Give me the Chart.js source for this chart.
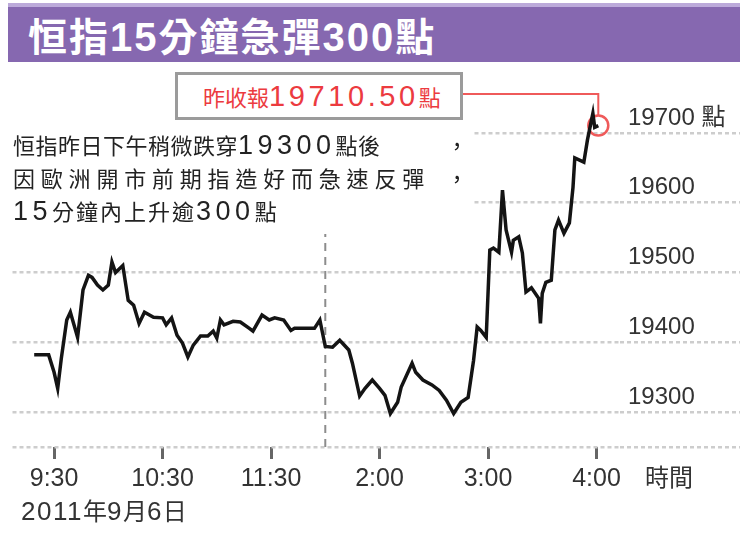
<!DOCTYPE html>
<html>
<head>
<meta charset="utf-8">
<script src="https://cdn.jsdelivr.net/npm/chart.js@4/dist/chart.umd.min.js"></script>
<style>
  html,body{margin:0;padding:0;background:#fff;}
  #wrap{position:relative;width:748px;height:540px;overflow:hidden;background:#fff;font-family:"Noto Sans CJK TC","Noto Sans CJK SC",sans-serif;}
  #c{position:absolute;left:0;top:0;}
  #titlebar{position:absolute;left:8px;top:3px;height:55px;background:#8668b0;border-top:4px solid #bcaada;color:#fff;font-weight:bold;font-size:39px;letter-spacing:2px;line-height:54px;padding-left:20px;box-sizing:content-box;width:712px;white-space:nowrap;}
  #titlebar .d{font-family:"Liberation Sans",sans-serif;font-weight:bold;font-size:40px;}
  #note{position:absolute;left:0;top:128px;width:472px;height:98px;background:#fff;color:#222;font-size:22px;}
  .ln{position:absolute;left:13px;height:33px;line-height:33px;white-space:nowrap;}
  .ln .d{font-family:"Liberation Sans",sans-serif;font-size:27px;letter-spacing:4.5px;}
  .comma{position:absolute;left:446px;width:22px;text-align:center;height:33px;line-height:33px;}
  #closeBox{position:absolute;left:175px;top:72px;height:42px;border:3px solid #9b9b9b;background:#fff;color:#ec3b3f;font-size:22px;line-height:42px;padding-left:25px;box-sizing:content-box;width:257px;white-space:nowrap;}
  #closeBox .d{font-family:"Liberation Sans",sans-serif;font-size:29px;letter-spacing:3.6px;}
  #timeLbl{position:absolute;left:645px;top:462px;font-size:24px;line-height:28px;color:#333;}
  #dateLbl{position:absolute;left:21px;top:496px;font-size:24px;line-height:28px;color:#333;white-space:nowrap;}
  #dateLbl .d{font-family:"Liberation Sans",sans-serif;font-size:26px;letter-spacing:1.5px;}
</style>
</head>
<body>
<div id="wrap">
  <canvas id="c" width="748" height="540"></canvas>
  <div id="titlebar">恒指<span class="d">15</span>分鐘急彈<span class="d">300</span>點</div>
  <div id="note">
    <div class="ln" style="top:0px;letter-spacing:0.5px">恒指昨日下午稍微跌穿<span class="d">19300</span>點後</div><div class="comma" style="top:0px">，</div>
    <div class="ln" style="top:33px;letter-spacing:5.8px">因歐洲開市前期指造好而急速反彈</div><div class="comma" style="top:33px">，</div>
    <div class="ln" style="top:66px;letter-spacing:2px"><span class="d">15</span>分鐘內上升逾<span class="d">300</span>點</div>
  </div>
  <div id="closeBox">昨收報<span class="d">19710.50</span>點</div>
  <div id="timeLbl">時間</div>
  <div id="dateLbl"><span class="d">2011</span>年<span class="d">9</span>月<span class="d">6</span>日</div>
</div>
<script>
// ---- data (trading minutes after 9:30, lunch break removed) ----
const tradingMinutes = [-11,-3,0,2,4,7,9,11,13,16,19,21,24,27,30,32,34,38,41,44,47,50,55,60,62,65,68,71,74,77,81,85,88,90,92,94,99,103,108,110,115,119,122,127,131,133,138,144,147,150,154,158,163,165,169,172,176,180,183,186,190,192,198,200,204,209,213,217,221,225,229,232,234,236,239,241,243,246,248,250,253,254,257,259,261,264,268,269,270,272,275,277,279,282,285,287,288,293,295,298,299,301];
const hsiValues = [19382,19382,19357,19334,19377,19432,19443,19425,19407,19475,19496,19493,19482,19475,19482,19515,19500,19510,19460,19453,19427,19443,19436,19435,19425,19435,19410,19399,19379,19396,19409,19409,19416,19406,19432,19425,19430,19429,19420,19416,19439,19432,19435,19432,19417,19420,19420,19420,19432,19394,19393,19403,19389,19370,19323,19334,19346,19334,19324,19298,19314,19336,19370,19357,19346,19339,19331,19317,19298,19314,19321,19374,19422,19417,19407,19532,19535,19529,19618,19561,19529,19546,19551,19528,19472,19478,19463,19427,19470,19486,19489,19561,19575,19556,19571,19622,19664,19658,19690,19728,19708,19710.5];
const xTickMinutes = [0,60,120,180,240,300];
const xTickLabels = ['9:30','10:30','11:30','2:00','3:00','4:00'];
const yTickValues = [19250,19300,19400,19500,19600,19700];
const yTickLabels = ['','19300','19400','19500','19600','19700 點'];
const lunchBreakMinute = 150;
const lunchLineValues = [19250,19555];
const previousClose = 19710.5;

const linePoints = tradingMinutes.map((m,i)=>({x:m,y:hsiValues[i]}));
const closePoint = [{x:tradingMinutes[tradingMinutes.length-1], y:previousClose}];
const lunchPoints = lunchLineValues.map(v=>({x:lunchBreakMinute,y:v}));

const connector = {
  id:'connector',
  afterDatasetsDraw(chart){
    const el = chart.getDatasetMeta(2).data[0];
    if(!el) return;
    const box = document.getElementById('closeBox').getBoundingClientRect();
    const cv = chart.canvas.getBoundingClientRect();
    const bx = box.right - cv.left;
    const by = box.top - cv.top + box.height/2 - 2;
    const ctx = chart.ctx;
    ctx.save();
    ctx.strokeStyle = '#ef5a5a';
    ctx.lineWidth = 2;
    ctx.beginPath();
    ctx.moveTo(bx, by);
    ctx.lineTo(el.x, by);
    ctx.lineTo(el.x, el.y - 10);
    ctx.stroke();
    ctx.restore();
  }
};

new Chart(document.getElementById('c'), {
  data:{
    datasets:[
      {type:'line', label:'恒指', data:linePoints, borderColor:'#141414', borderWidth:3.5, pointRadius:0, tension:0, fill:false, borderJoinStyle:'miter'},
      {type:'line', label:'午休', data:lunchPoints, borderColor:'#8c8c8c', borderWidth:2, borderDash:[8,6], pointRadius:0, fill:false},
      {type:'scatter', label:'昨收', data:closePoint, pointRadius:10, pointBorderWidth:2.5, pointBorderColor:'#ef5a5a', pointBackgroundColor:'rgba(255,255,255,0)'}
    ]
  },
  options:{
    responsive:false,
    animation:false,
    events:[],
    layout:{padding:{left:8, top:91, right:0, bottom:0}},
    plugins:{legend:{display:false}, tooltip:{enabled:false}, title:{display:false}},
    scales:{
      x:{
        type:'linear', min:-23, max:313,
        afterBuildTicks:s=>{ s.ticks = xTickMinutes.map(v=>({value:v})); },
        afterFit:s=>{ s.height = 93; },
        grid:{drawOnChartArea:false, drawTicks:true, tickLength:12, tickWidth:3, tickColor:'#666'},
        border:{display:false},
        ticks:{autoSkip:false, maxRotation:0, padding:5, color:'#333',
          font:{family:'"Liberation Sans", sans-serif', size:25},
          callback:v=>{ const i = xTickMinutes.indexOf(v); return i>=0 ? xTickLabels[i] : ''; }}
      },
      y:{
        position:'right', min:19250, max:19760,
        afterBuildTicks:s=>{ s.ticks = yTickValues.map(v=>({value:v})); },
        afterFit:s=>{ s.width = 128; },
        grid:{color:'#cdcdcd', lineWidth:2.5, drawTicks:true, tickLength:120, tickColor:'#cdcdcd', tickWidth:2.5, tickBorderDash:[4,3]},
        border:{display:false, dash:[4,3]},
        ticks:{padding:-112, labelOffset:-15, color:'#333',
          font:{family:'"Liberation Sans", "Noto Sans CJK TC", sans-serif', size:24},
          callback:v=>{ const i = yTickValues.indexOf(v); return i>=0 ? yTickLabels[i] : ''; }}
      }
    }
  },
  plugins:[connector]
});
</script>
</body>
</html>
